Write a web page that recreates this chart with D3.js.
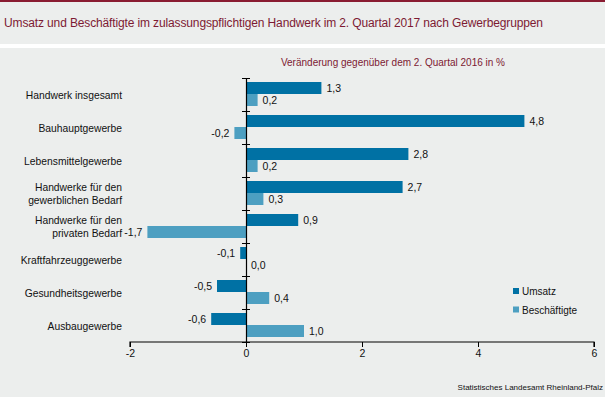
<!DOCTYPE html>
<html>
<head>
<meta charset="utf-8">
<script src="https://cdn.jsdelivr.net/npm/d3@7"></script>
<style>
  body { margin: 0; background: #fff; }
  svg { display: block; font-family: "Liberation Sans", Arial, sans-serif; }
</style>
</head>
<body>
<svg id="chart" width="605" height="397"></svg>
<script>
// categories, top to bottom (multi-line labels split with "|")
var categories = ["Handwerk insgesamt", "Bauhauptgewerbe", "Lebensmittelgewerbe",
    "Handwerke für den|gewerblichen Bedarf", "Handwerke für den|privaten Bedarf",
    "Kraftfahrzeuggewerbe", "Gesundheitsgewerbe", "Ausbaugewerbe"];
var umsatz = [1.3, 4.8, 2.8, 2.7, 0.9, -0.1, -0.5, -0.6];
var beschaeftigte = [0.2, -0.2, 0.2, 0.3, -1.7, 0.0, 0.4, 1.0];
var seriesNames = ["Umsatz", "Beschäftigte"];
var xTicks = [-2, 0, 2, 4, 6];

var colors = ["#0071a4", "#4d9fc1"];
var red = "#7d1a33";

var svg = d3.select("#chart");

// header band
svg.append("rect").attr("x", 0).attr("y", 0).attr("width", 605).attr("height", 397).attr("fill", "#fff");
svg.append("rect").attr("x", 0).attr("y", 0).attr("width", 605).attr("height", 44).attr("fill", "#eceeed");
svg.append("rect").attr("x", 0).attr("y", 0).attr("width", 605).attr("height", 2).attr("fill", "#8a1c32");
svg.append("rect").attr("x", 0).attr("y", 48).attr("width", 605).attr("height", 349).attr("fill", "#eceeed");

svg.append("text")
    .attr("x", 4).attr("y", 27)
    .attr("font-size", "12px")
    .attr("fill", red)
    .attr("textLength", 539)
    .attr("lengthAdjust", "spacing")
    .text("Umsatz und Beschäftigte im zulassungspflichtigen Handwerk im 2. Quartal 2017 nach Gewerbegruppen");

svg.append("text")
    .attr("x", 505).attr("y", 66)
    .attr("text-anchor", "end")
    .attr("font-size", "10px")
    .attr("fill", red)
    .text("Veränderung gegenüber dem 2. Quartal 2016 in %");

var x = d3.scaleLinear().domain([-2, 6]).range([130, 594]);
var y = d3.scaleBand().domain(categories).range([78, 342]);
var inner = d3.scaleBand().domain(seriesNames).range([4, y.bandwidth() - 5]).paddingInner(0);

var data = [];
categories.forEach(function(c, i) {
    data.push({cat: c, s: 0, v: umsatz[i]});
    data.push({cat: c, s: 1, v: beschaeftigte[i]});
});

var g = svg.append("g");

g.selectAll("rect.bar").data(data).enter().append("rect")
    .attr("class", "bar")
    .attr("x", function(d) { return x(Math.min(0, d.v)); })
    .attr("y", function(d) { return y(d.cat) + inner(seriesNames[d.s]); })
    .attr("width", function(d) { return Math.abs(x(d.v) - x(0)); })
    .attr("height", inner.bandwidth())
    .attr("fill", function(d) { return colors[d.s]; });

g.selectAll("text.val").data(data).enter().append("text")
    .attr("class", "val")
    .attr("x", function(d) { return d.v < 0 ? x(d.v) - 5 : x(d.v) + 5; })
    .attr("y", function(d) { return y(d.cat) + inner(seriesNames[d.s]) + inner.bandwidth() / 2 + 4; })
    .attr("text-anchor", function(d) { return d.v < 0 ? "end" : "start"; })
    .attr("font-size", "10.5px")
    .attr("fill", "#111")
    .text(function(d) { return d3.format(".1f")(d.v).replace(".", ",").replace("−", "-"); });

// x axis
var xAxis = d3.axisBottom(x).tickValues(xTicks).tickSize(5).tickFormat(d3.format("d"));
var xg = svg.append("g").attr("transform", "translate(0,342)").call(xAxis);
xg.select(".domain").attr("d", "M" + x(-2) + ",5V0H" + x(6) + "V5").attr("stroke", "#000").attr("stroke-width", 1.2);
xg.selectAll(".tick line").attr("stroke", "#000");
xg.selectAll(".tick text").attr("font-size", "10.5px").attr("fill", "#111").attr("y", 8)
    .text(function(d) { return String(d).replace("−", "-"); });
xg.attr("font-family", null);

// y axis at zero
var yAxis = d3.axisLeft(d3.scaleLinear().domain([0, 8]).range([78, 342])).ticks(8).tickSize(0).tickFormat("");
var yg = svg.append("g").attr("transform", "translate(" + x(0) + ",0)").call(yAxis);
yg.select(".domain").attr("stroke", "#000").attr("stroke-width", 1.2);
yg.selectAll(".tick line").attr("x1", -4).attr("x2", 4).attr("stroke", "#000");

// category labels
categories.forEach(function(c) {
    var lines = c.split("|");
    var cy = y(c) + y.bandwidth() / 2;
    var t = svg.append("text")
        .attr("x", 122)
        .attr("text-anchor", "end")
        .attr("font-size", "10.3px")
        .attr("fill", "#111");
    lines.forEach(function(l, i) {
        t.append("tspan").attr("x", 122)
            .attr("y", cy + 4 + (i - (lines.length - 1) / 2) * 13)
            .text(l);
    });
});

// legend
var leg = svg.append("g").attr("transform", "translate(513,0)");
seriesNames.forEach(function(n, i) {
    leg.append("rect").attr("x", 0).attr("y", 288 + i * 18.5).attr("width", 6).attr("height", 6).attr("fill", colors[i]);
    leg.append("text").attr("x", 9).attr("y", 295 + i * 18.5).attr("font-size", "10px").attr("fill", "#111").text(n);
});

svg.append("text")
    .attr("x", 603).attr("y", 390)
    .attr("text-anchor", "end")
    .attr("font-size", "8px")
    .attr("fill", "#111")
    .text("Statistisches Landesamt Rheinland-Pfalz");
</script>
</body>
</html>
